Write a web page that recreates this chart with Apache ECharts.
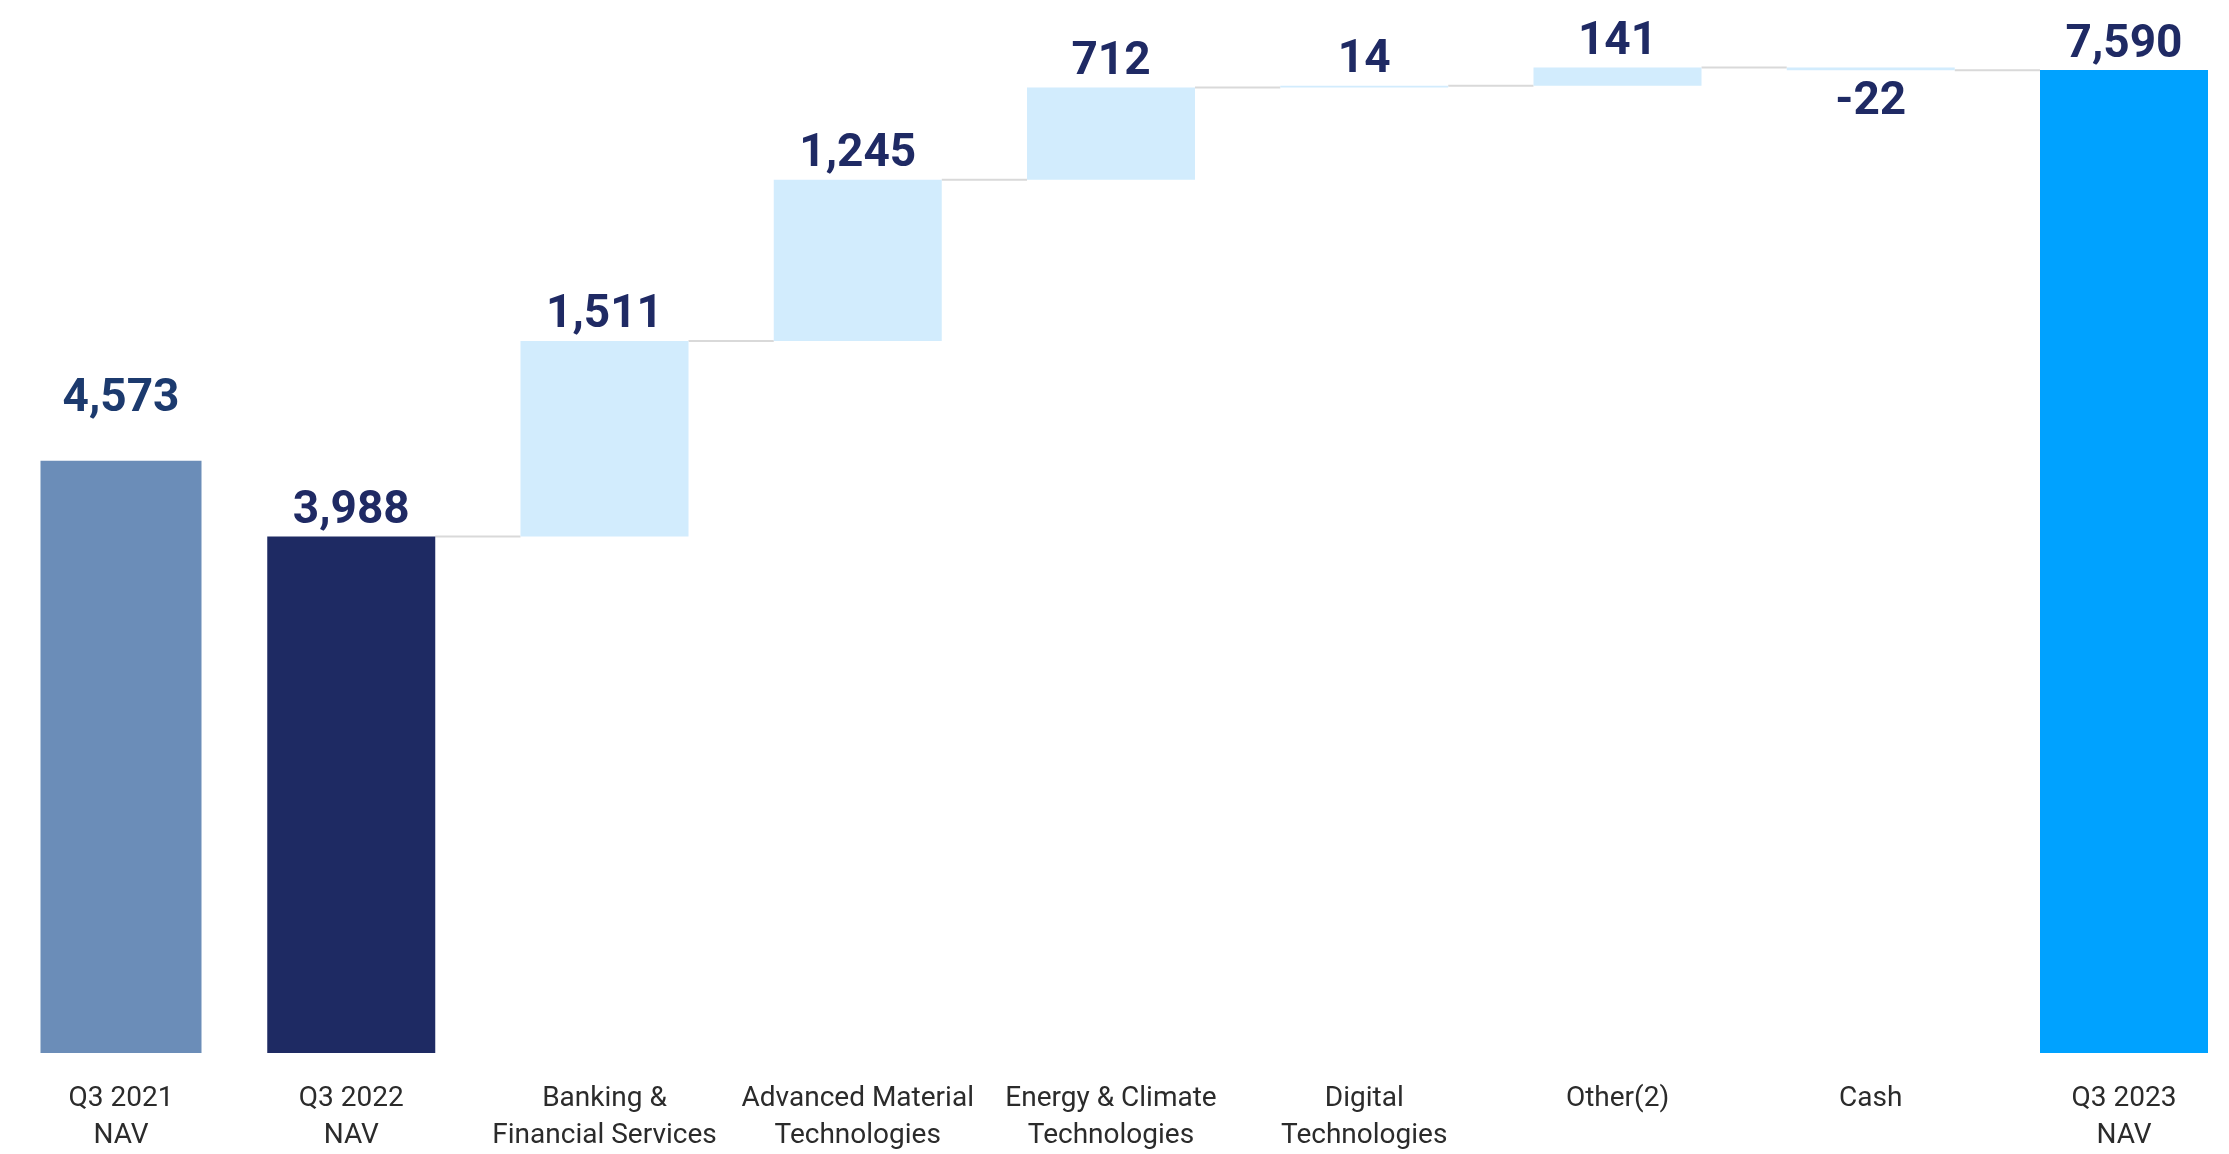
<!DOCTYPE html>
<html>
<head>
<meta charset="utf-8">
<title>NAV bridge</title>
<script src="https://cdn.jsdelivr.net/npm/echarts@6/dist/echarts.min.js"></script>
<style>
  html, body { margin: 0; padding: 0; background: #ffffff; }
  #chart { width: 2229px; height: 1154px; }
</style>
</head>
<body>
<div id="chart"></div>
<script>
// Bridge from Q3 2022 NAV to Q3 2023 NAV, with Q3 2021 NAV for reference
const categories = [
  'Q3 2021\nNAV',
  'Q3 2022\nNAV',
  'Banking &\nFinancial Services',
  'Advanced Material\nTechnologies',
  'Energy & Climate\nTechnologies',
  'Digital\nTechnologies',
  'Other(2)',
  'Cash',
  'Q3 2023\nNAV'
];
const navPrior = 4573;   // Q3 2021
const navStart = 3988;   // Q3 2022
const changes = [1511, 1245, 712, 14, 141, -22];
const navEnd = 7590;     // Q3 2023

const colors = {
  prior: '#6b8db8',
  start: '#1e2a63',
  change: '#d2ecfd',
  end: '#00a2ff',
  label: '#1f2a64',
  priorLabel: '#1c3a6e',
  connector: '#d9d9d9',
  axisText: '#2b2b2b'
};
const BAR_W = 168;
const fmt = v => (v < 0 ? '-' : '') + Math.abs(v).toLocaleString('en-US');

// Invisible base + visible segment for the bridge (categories 1..8)
const baseData = ['-'];
const segData = ['-'];
const connectors = [];
let running = navStart;
baseData.push(0);
segData.push({
  value: navStart,
  itemStyle: { color: colors.start },
  label: { formatter: fmt(navStart) }
});
connectors.push([1, running]);
changes.forEach((c, k) => {
  const lo = Math.min(running, running + c);
  baseData.push(lo);
  segData.push({
    value: Math.abs(c),
    itemStyle: { color: colors.change },
    label: c < 0
      ? { formatter: fmt(c), position: 'bottom', distance: 9 }
      : { formatter: fmt(c) }
  });
  running += c;
  connectors.push([k + 2, running]);
});
baseData.push(0);
segData.push({
  value: navEnd,
  itemStyle: { color: colors.end },
  label: { formatter: fmt(navEnd) }
});

const priorData = [{
  value: navPrior,
  itemStyle: { color: colors.prior },
  label: { formatter: fmt(navPrior), color: colors.priorLabel, distance: 38 }
}].concat(new Array(categories.length - 1).fill('-'));

const valueLabel = {
  show: true,
  position: 'top',
  distance: 2,
  fontFamily: 'Roboto',
  fontWeight: 'bold',
  fontSize: 46,
  color: colors.label
};

// Category ticks sit on bar centres (boundaryGap off), 253 px apart
const gridTop = 17;
const gridHeight = 1036;
const gridLeft = 98;
const gridRight = 105;
const priorShift = 23;

const chart = echarts.init(document.getElementById('chart'), null, { renderer: 'canvas' });
chart.setOption({
  animation: false,
  backgroundColor: '#ffffff',
  grid: [
    { left: gridLeft, right: gridRight, top: gridTop, height: gridHeight },
    { left: gridLeft + priorShift, right: gridRight - priorShift, top: gridTop, height: gridHeight }
  ],
  xAxis: [0, 1].map(g => ({
    type: 'category',
    gridIndex: g,
    boundaryGap: false,
    data: categories,
    axisLine: { show: false },
    axisTick: { show: false },
    splitLine: { show: false },
    axisLabel: {
      interval: 0,
      margin: 27,
      fontFamily: 'Roboto',
      fontSize: 28,
      lineHeight: 37,
      color: colors.axisText,
      formatter: (v, i) => (g === 0 ? (i === 0 ? '' : v) : (i === 0 ? v : ''))
    }
  })),
  yAxis: [0, 1].map(g => ({
    type: 'value',
    gridIndex: g,
    min: 0,
    max: 8000,
    show: false,
    splitLine: { show: false }
  })),
  series: [
    {
      type: 'bar',
      xAxisIndex: 0, yAxisIndex: 0,
      stack: 'bridge',
      barWidth: BAR_W,
      clip: false,
      itemStyle: { color: 'transparent' },
      emphasis: { disabled: true },
      data: baseData
    },
    {
      type: 'bar',
      xAxisIndex: 0, yAxisIndex: 0,
      stack: 'bridge',
      barWidth: BAR_W,
      clip: false,
      label: valueLabel,
      emphasis: { disabled: true },
      data: segData
    },
    {
      type: 'bar',
      xAxisIndex: 1, yAxisIndex: 1,
      barWidth: 161,
      clip: false,
      label: valueLabel,
      emphasis: { disabled: true },
      data: priorData
    },
    {
      // thin connectors between consecutive bridge bars at the running total
      type: 'custom',
      xAxisIndex: 0, yAxisIndex: 0,
      silent: true,
      clip: false,
      z: 1,
      data: connectors,
      renderItem: (params, api) => {
        const idx = api.value(0);
        const lvl = api.value(1);
        const p1 = api.coord([idx, lvl]);
        const p2 = api.coord([idx + 1, lvl]);
        const half = BAR_W / 2;
        return {
          type: 'line',
          shape: { x1: p1[0] + half, y1: p1[1], x2: p2[0] - half, y2: p2[1] },
          style: { stroke: colors.connector, lineWidth: 2 }
        };
      }
    }
  ]
});
</script>
</body>
</html>
